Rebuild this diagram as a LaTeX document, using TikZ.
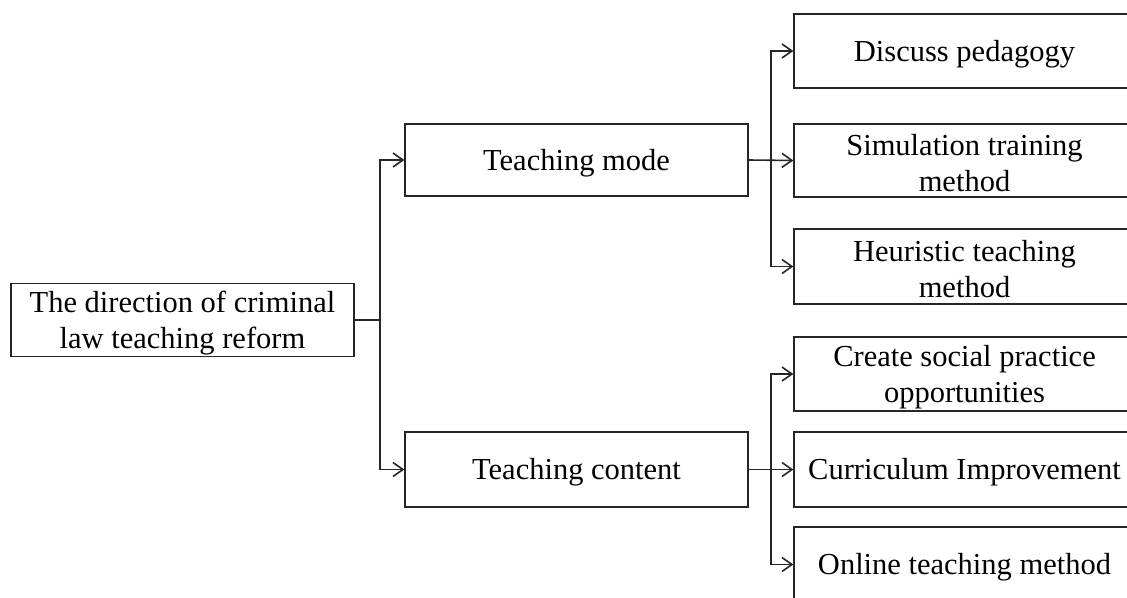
\documentclass[tikz,border=0pt]{standalone}
\usepackage{fontspec}
\setmainfont{Liberation Serif}
\usetikzlibrary{arrows.meta}
\begin{document}
\begin{tikzpicture}[x=1pt,y=-1pt,
  box/.style={draw=black!85, line width=1.3pt, minimum width=343pt, minimum height=73pt, inner sep=0pt},
  rbox/.style={box, minimum width=341pt, minimum height=75pt},
  lbl/.style={inner sep=0pt, align=center, yshift=-3pt, font=\fontsize{30.5}{36}\selectfont},
  conn/.style={draw=black!85, line width=1.6pt},
  arr/.style={conn, -{Straight Barb[length=10pt,width=14pt,line width=1.6pt]}}
]
\useasboundingbox (0,0) rectangle (1127,597);
\clip (0,0) rectangle (1127,597);
\node[box, label={[lbl]center:The direction of criminal\\law teaching reform}] (root) at (182.5,320) {};
\node[box, minimum height=72pt, label={[lbl]center:Teaching mode}] (mode) at (576.5,160) {};
\node[box, minimum height=75pt, label={[lbl]center:Teaching content}] (content) at (576.5,469.5) {};
\node[rbox, minimum height=74pt, label={[lbl]center:Discuss pedagogy}] (d1) at (964.5,51) {};
\node[rbox, minimum height=73pt, label={[lbl]center:Simulation training\\method}] (d2) at (964.5,160.5) {};
\node[rbox, label={[lbl]center:Heuristic teaching\\method}] (d3) at (964.5,266.5) {};
\node[rbox, minimum height=74pt, label={[lbl]center:Create social practice\\opportunities}] (c1) at (964.5,374) {};
\node[rbox, label={[lbl]center:Curriculum Improvement}] (c2) at (964.5,469.5) {};
\node[rbox, label={[lbl]center:Online teaching method}] (c3) at (964.5,564.5) {};
\coordinate (j0) at (380,320);
\coordinate (j1) at (771,160);
\coordinate (j2) at (771,469);
\draw[conn] (root.east) -- (j0);
\draw[arr] (j0) |- (mode.west);
\draw[arr] (j0) |- (content.west);
\draw[arr] (mode.east) -- (d2.west);
\draw[arr] (j1) |- (d1.west);
\draw[arr] (j1) |- (d3.west);
\draw[arr] (content.east) -- (c2.west);
\draw[arr] (j2) |- (c1.west);
\draw[arr] (j2) |- (c3.west);
\end{tikzpicture}
\end{document}
